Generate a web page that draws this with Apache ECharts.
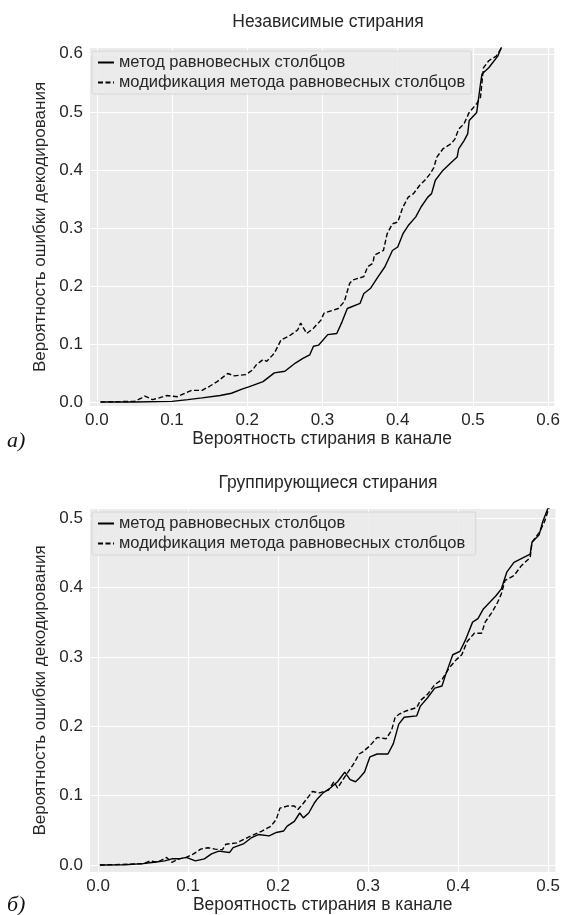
<!DOCTYPE html>
<html>
<head>
<meta charset="utf-8">
<script src="https://cdn.jsdelivr.net/npm/echarts@6/dist/echarts.min.js"></script>
<style>
  html, body { margin: 0; padding: 0; background: #fff; }
  #main { width: 563px; height: 915px; }
</style>
</head>
<body>
<div id="main"></div>
<script>
// подписи
const titleA = 'Независимые стирания';
const titleB = 'Группирующиеся стирания';
const xName = 'Вероятность стирания в канале';
const yName = 'Вероятность ошибки декодирования';
const nameEq = 'метод равновесных столбцов';
const nameMod = 'модификация метода равновесных столбцов';

const ticksA = [0, 0.1, 0.2, 0.3, 0.4, 0.5, 0.6];
const ticksB = [0, 0.1, 0.2, 0.3, 0.4, 0.5];

// а) независимые стирания, метод равновесных столбцов
const aEqX = [0.005, 0.05, 0.1, 0.121, 0.14, 0.164, 0.179, 0.193, 0.202, 0.221, 0.236, 0.25, 0.264, 0.274, 0.283, 0.288, 0.295, 0.307, 0.319, 0.326, 0.333, 0.35, 0.355, 0.364, 0.374, 0.383, 0.393, 0.4, 0.407, 0.414, 0.424, 0.431, 0.44, 0.445, 0.45, 0.46, 0.469, 0.479, 0.481, 0.488, 0.493, 0.495, 0.505, 0.51, 0.512, 0.521, 0.533, 0.538];
const aEqY = [0, 0, 0.001, 0.004, 0.007, 0.011, 0.015, 0.022, 0.026, 0.035, 0.05, 0.053, 0.067, 0.075, 0.081, 0.096, 0.098, 0.116, 0.118, 0.138, 0.161, 0.17, 0.187, 0.196, 0.216, 0.233, 0.261, 0.267, 0.29, 0.304, 0.319, 0.336, 0.353, 0.359, 0.382, 0.399, 0.41, 0.422, 0.436, 0.45, 0.462, 0.485, 0.499, 0.548, 0.565, 0.576, 0.596, 0.612];

// а) независимые стирания, модификация
const aModX = [0.005, 0.05, 0.06, 0.064, 0.074, 0.083, 0.093, 0.107, 0.117, 0.126, 0.14, 0.15, 0.16, 0.169, 0.174, 0.183, 0.198, 0.207, 0.212, 0.221, 0.226, 0.236, 0.245, 0.255, 0.267, 0.271, 0.279, 0.288, 0.298, 0.302, 0.314, 0.321, 0.329, 0.336, 0.34, 0.355, 0.36, 0.367, 0.369, 0.381, 0.386, 0.393, 0.4, 0.407, 0.414, 0.421, 0.429, 0.436, 0.443, 0.448, 0.452, 0.46, 0.471, 0.476, 0.481, 0.488, 0.495, 0.505, 0.51, 0.514, 0.521, 0.531, 0.54];
const aModY = [0, 0.001, 0.007, 0.01, 0.004, 0.007, 0.011, 0.009, 0.015, 0.02, 0.02, 0.027, 0.035, 0.044, 0.049, 0.045, 0.047, 0.055, 0.064, 0.073, 0.07, 0.084, 0.107, 0.113, 0.124, 0.136, 0.118, 0.127, 0.141, 0.153, 0.158, 0.161, 0.173, 0.204, 0.21, 0.216, 0.233, 0.239, 0.253, 0.261, 0.29, 0.307, 0.31, 0.336, 0.353, 0.359, 0.373, 0.382, 0.393, 0.404, 0.422, 0.436, 0.445, 0.453, 0.47, 0.479, 0.499, 0.514, 0.525, 0.576, 0.588, 0.596, 0.614];

// б) группирующиеся стирания, метод равновесных столбцов
const bEqX = [0.002, 0.03, 0.05, 0.062, 0.074, 0.082, 0.09, 0.098, 0.108, 0.118, 0.126, 0.134, 0.146, 0.15, 0.162, 0.17, 0.178, 0.19, 0.198, 0.206, 0.21, 0.218, 0.224, 0.228, 0.234, 0.24, 0.244, 0.25, 0.258, 0.266, 0.274, 0.28, 0.286, 0.29, 0.296, 0.302, 0.31, 0.322, 0.328, 0.334, 0.34, 0.354, 0.358, 0.366, 0.374, 0.382, 0.386, 0.394, 0.402, 0.408, 0.416, 0.422, 0.428, 0.442, 0.448, 0.454, 0.462, 0.48, 0.482, 0.49, 0.494, 0.5];
const bEqY = [0, 0.0005, 0.002, 0.004, 0.006, 0.009, 0.009, 0.011, 0.006, 0.009, 0.016, 0.02, 0.018, 0.025, 0.031, 0.039, 0.044, 0.042, 0.047, 0.049, 0.056, 0.063, 0.075, 0.068, 0.075, 0.089, 0.096, 0.104, 0.111, 0.12, 0.134, 0.123, 0.12, 0.125, 0.134, 0.156, 0.16, 0.16, 0.175, 0.203, 0.213, 0.215, 0.229, 0.241, 0.255, 0.258, 0.274, 0.303, 0.308, 0.324, 0.35, 0.355, 0.369, 0.388, 0.398, 0.422, 0.436, 0.448, 0.465, 0.476, 0.495, 0.515];

// б) группирующиеся стирания, модификация
const bModX = [0.002, 0.05, 0.058, 0.066, 0.076, 0.082, 0.09, 0.098, 0.106, 0.114, 0.122, 0.13, 0.138, 0.142, 0.154, 0.162, 0.17, 0.182, 0.192, 0.198, 0.202, 0.21, 0.218, 0.222, 0.228, 0.234, 0.238, 0.246, 0.256, 0.262, 0.266, 0.274, 0.284, 0.29, 0.294, 0.302, 0.31, 0.32, 0.326, 0.33, 0.334, 0.342, 0.354, 0.358, 0.366, 0.374, 0.382, 0.39, 0.398, 0.404, 0.41, 0.418, 0.426, 0.43, 0.438, 0.444, 0.448, 0.452, 0.462, 0.47, 0.48, 0.482, 0.49, 0.496, 0.501];
const bModY = [0, 0.002, 0.006, 0.004, 0.011, 0.004, 0.009, 0.011, 0.016, 0.023, 0.025, 0.023, 0.022, 0.03, 0.032, 0.037, 0.042, 0.049, 0.056, 0.066, 0.082, 0.085, 0.085, 0.08, 0.089, 0.099, 0.106, 0.104, 0.108, 0.12, 0.111, 0.127, 0.146, 0.16, 0.163, 0.172, 0.184, 0.182, 0.194, 0.213, 0.217, 0.222, 0.227, 0.237, 0.246, 0.26, 0.267, 0.284, 0.296, 0.303, 0.322, 0.334, 0.334, 0.35, 0.365, 0.379, 0.391, 0.41, 0.417, 0.431, 0.443, 0.465, 0.479, 0.495, 0.515];

function zip(xs, ys) {
  return xs.map(function (x, i) { return [x, ys[i]]; });
}

const textColor = '#262626';
const fontFamily = 'Arial, "Liberation Sans", sans-serif';

function xAxisOf(idx, max, ticks) {
  return {
    type: 'value', gridIndex: idx, min: -0.009, max: max,
    name: xName, nameLocation: 'middle', nameGap: 24,
    nameTextStyle: { color: textColor, fontSize: 17.5, fontFamily: fontFamily },
    axisLine: { show: false },
    axisTick: { show: false, customValues: ticks },
    axisLabel: {
      customValues: ticks, color: textColor, fontSize: 17, fontFamily: fontFamily, margin: 6,
      formatter: function (v) { return v.toFixed(1); }
    },
    splitLine: { show: true, lineStyle: { color: '#ffffff', width: 1 } }
  };
}

function yAxisOf(idx, min, max, ticks) {
  return {
    type: 'value', gridIndex: idx, min: min, max: max,
    name: yName, nameLocation: 'middle', nameGap: 29,
    nameTextStyle: { color: textColor, fontSize: 17, fontFamily: fontFamily },
    axisLine: { show: false },
    axisTick: { show: false, customValues: ticks },
    axisLabel: {
      customValues: ticks, color: textColor, fontSize: 17, fontFamily: fontFamily, margin: 7,
      formatter: function (v) { return v.toFixed(1); }
    },
    splitLine: { show: true, lineStyle: { color: '#ffffff', width: 1 } }
  };
}

function legendOf(top, names) {
  return {
    orient: 'vertical', left: 92, top: top,
    data: names,
    itemWidth: 16, itemHeight: 14, itemGap: 3,
    padding: [3, 6, 3, 5],
    backgroundColor: 'rgba(235,235,235,0.85)',
    borderColor: '#d6d6d6', borderWidth: 1, borderRadius: 2,
    itemStyle: { color: 'rgba(0,0,0,0)', borderWidth: 0, opacity: 0 },
    textStyle: { color: textColor, fontSize: 16.5, fontFamily: fontFamily },
    selectedMode: false
  };
}

const solidStyle = { color: '#000', width: 1.4, type: 'solid' };
const dashStyle = { color: '#000', width: 1.4, type: [5, 2.5] };

const chart = echarts.init(document.getElementById('main'), null, { renderer: 'canvas' });

chart.setOption({
  animation: false,
  backgroundColor: '#ffffff',
  title: [
    { text: titleA, left: 323, top: 8, textAlign: 'center',
      textStyle: { color: textColor, fontSize: 17.5, fontWeight: 'normal', fontFamily: fontFamily } },
    { text: titleB, left: 323, top: 469, textAlign: 'center',
      textStyle: { color: textColor, fontSize: 17.5, fontWeight: 'normal', fontFamily: fontFamily } }
  ],
  legend: [
    legendOf(51, [{ name: nameEq }, { name: nameMod }]),
    legendOf(512, [{ name: nameEq + ' ' }, { name: nameMod + ' ' }])
  ],
  grid: [
    { left: 90, top: 48, width: 466, height: 358, show: true, backgroundColor: '#ebebeb', borderWidth: 0 },
    { left: 90, top: 509, width: 466, height: 364, show: true, backgroundColor: '#ebebeb', borderWidth: 0 }
  ],
  xAxis: [
    xAxisOf(0, 0.608, ticksA),
    xAxisOf(1, 0.508, ticksB)
  ],
  yAxis: [
    yAxisOf(0, -0.007, 0.61, ticksA),
    yAxisOf(1, -0.01, 0.513, ticksB)
  ],
  series: [
    { name: nameEq, type: 'line', xAxisIndex: 0, yAxisIndex: 0, symbol: 'none',
      lineStyle: solidStyle, itemStyle: { color: '#000' }, data: zip(aEqX, aEqY) },
    { name: nameMod, type: 'line', xAxisIndex: 0, yAxisIndex: 0, symbol: 'none',
      lineStyle: dashStyle, itemStyle: { color: '#000' }, data: zip(aModX, aModY) },
    { name: nameEq + ' ', type: 'line', xAxisIndex: 1, yAxisIndex: 1, symbol: 'none',
      lineStyle: solidStyle, itemStyle: { color: '#000' }, data: zip(bEqX, bEqY) },
    { name: nameMod + ' ', type: 'line', xAxisIndex: 1, yAxisIndex: 1, symbol: 'none',
      lineStyle: dashStyle, itemStyle: { color: '#000' }, data: zip(bModX, bModY) }
  ],
  graphic: [
    { type: 'text', left: 7, top: 430,
      style: { text: 'a)', fill: '#111', font: 'italic 22px "Liberation Serif", "Times New Roman", serif' } },
    { type: 'text', left: 7, top: 894,
      style: { text: 'б)', fill: '#111', font: 'italic 22px "Liberation Serif", "Times New Roman", serif' } }
  ]
});
</script>
</body>
</html>
